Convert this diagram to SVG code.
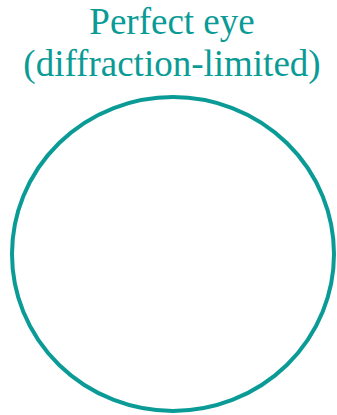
<svg xmlns="http://www.w3.org/2000/svg" width="337" height="415" viewBox="0 0 337 415">
<style>
.t{font-size:37px;fill:#0a9b96;text-anchor:middle}
.c{fill:none;stroke:#0a9b96;stroke-width:4}
</style>
<rect width="337" height="415" fill="#fff"/>
<g id="eye">
<text class="t" font-family="'Liberation Serif', 'Times New Roman', serif" x="172" y="34">Perfect eye</text>
<text class="t" font-family="'Liberation Serif', 'Times New Roman', serif" x="172" y="76">(diffraction-limited)</text>
<ellipse class="c" cx="173" cy="254" rx="161" ry="157"/>
</g>
</svg>
